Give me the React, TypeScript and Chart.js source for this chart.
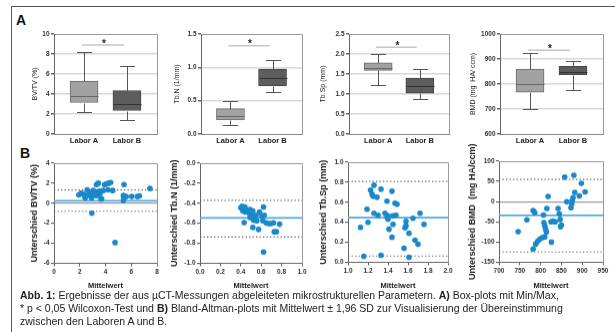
import React, { useEffect, useRef } from 'react';
import { Chart, registerables } from 'chart.js';
Chart.register(...registerables);

// ---------- DATA ----------
const boxCategories = ['Labor A', 'Labor B'];
// five-number summaries: [min, q1, median, q3, max]
const bvtvLaborA = [2.2, 3.15, 3.8, 5.3, 8.25];
const bvtvLaborB = [1.4, 2.35, 3.0, 4.35, 6.8];
const tbnLaborA = [0.13, 0.21, 0.27, 0.38, 0.49];
const tbnLaborB = [0.625, 0.72, 0.835, 0.975, 1.105];
const tbspLaborA = [1.22, 1.59, 1.64, 1.78, 1.99];
const tbspLaborB = [0.88, 1.02, 1.2, 1.4, 1.625];
const bmdLaborA = [702, 767, 802, 860, 922];
const bmdLaborB = [776, 837, 849, 871, 894];
const significanceLevels = [8.9, 1.325, 2.17, 935];

// Bland-Altman: means (x) and differences (y)
const bvtvMeans = [1.93, 2.1, 2.27, 2.42, 2.58, 2.73, 2.79, 2.92, 3.1, 3.2, 3.3, 3.44, 3.52, 3.57, 3.7, 3.83, 3.93, 4.09, 4.24, 4.4, 4.2, 4.56, 3.65, 2.94, 4.74, 5.44, 5.39, 5.44, 5.39, 5.6, 6.04, 6.48, 6.64, 7.45, 2.4, 3.3, 3.05];
const bvtvDiffs = [0.83, 1.0, 0.93, 0.53, 1.33, 1.1, 0.77, 0.53, 0.87, 1.1, 1.87, 2.0, 1.2, 0.93, 0.43, 1.27, 1.87, 1.93, 2.0, 2.07, 1.33, 1.27, 0.43, -1.0, -3.93, 1.87, 0.77, 0.53, 0.27, 0.67, 0.67, 0.67, 0.73, 1.47, 0.77, 0.77, 1.27];
const bvtvLimits = [0.25, 1.33, -0.8]; // mean, +1.96SD, -1.96SD

const tbnMeans = [0.4, 0.413, 0.426, 0.44, 0.42, 0.443, 0.433, 0.46, 0.48, 0.49, 0.51, 0.518, 0.53, 0.54, 0.55, 0.557, 0.518, 0.574, 0.584, 0.607, 0.616, 0.623, 0.63, 0.65, 0.672, 0.695, 0.72, 0.728, 0.748, 0.78, 0.623, 0.49, 0.525];
const tbnDiffs = [-0.444, -0.43, -0.454, -0.437, -0.477, -0.487, -0.593, -0.47, -0.497, -0.464, -0.51, -0.477, -0.536, -0.563, -0.52, -0.576, -0.642, -0.662, -0.487, -0.53, -0.576, -0.437, -0.52, -0.596, -0.603, -0.603, -0.596, -0.685, -0.685, -0.609, -0.887, -0.543, -0.57];
const tbnLimits = [-0.546, -0.37, -0.738];

const tbspMeans = [1.125, 1.158, 1.19, 1.2, 1.225, 1.24, 1.25, 1.26, 1.26, 1.29, 1.3, 1.33, 1.33, 1.37, 1.39, 1.39, 1.4, 1.4, 1.41, 1.44, 1.44, 1.45, 1.45, 1.47, 1.49, 1.48, 1.56, 1.57, 1.58, 1.58, 1.61, 1.61, 1.65, 1.67, 1.7, 1.72, 1.76];
const tbspDiffs = [0.349, 0.06, 0.53, 0.4, 0.72, 0.68, 0.66, 0.77, 0.49, 0.65, 0.47, 0.73, 0.07, 0.49, 0.61, 0.45, 0.43, 0.465, 0.33, 0.25, 0.71, 0.38, 0.465, 0.59, 0.58, 0.47, 0.14, 0.345, 0.41, 0.365, 0.29, 0.05, 0.44, 0.22, 0.18, 0.49, 0.38];
const tbspLimits = [0.445, 0.807, 0.063];

const bmdMeans = [746, 767, 782, 786, 807, 815, 818, 782, 788, 793, 798, 804, 810, 826, 808, 810, 812, 814, 825, 830, 835, 842, 845, 847, 848, 850, 858, 863, 873, 875, 876, 878, 880, 882, 893, 898, 907];
const bmdDiffs = [-74, -45, -22, -27, -33, -17, 13, -117, -105, -98, -93, -89, -87, -100, -52, -60, -68, -75, -50, -48, -50, -17, -30, -44, -62, -58, 61, 0, -15, -5, 3, 10, 65, 23, 14, 45, 24];
const bmdLimits = [-34, 55, -124.5];

// axis ranges [min, max, step]
const bvtvBoxAxis = [0, 10, 2];
const tbnBoxAxis = [0, 1.5, 0.5];
const tbspBoxAxis = [0, 2.5, 0.5];
const bmdBoxAxis = [600, 1000, 100];
const bvtvX = [0, 8, 2];
const bvtvY = [-6, 4, 2];
const tbnX = [0, 1, 0.2];
const tbnY = [-1, 0, 0.2];
const tbspX = [1, 2, 0.2];
const tbspY = [0, 1, 0.2];
const bmdX = [700, 950, 50];
const bmdY = [-150, 100, 50];

// ---------- STYLE ----------
const FONT = '"Liberation Sans", Arial, sans-serif';
const TICK_COLOR = '#333';
const BOX_FILL = ['#a2a2a2', '#5d5d5d'];
const BOX_BORDER = ['#6a6a6a', '#454545'];
const MEDIAN_COLOR = ['#666', '#333'];
const DOT = '#1b88cc';
const MEAN_LINE = '#55aadd';

type Rect = { l: number; t: number; r: number; b: number };

function layoutFor(plot: Rect, titleX: number, titleLH: number, xBottom: number, topRoom: number) {
  const yLeft = titleX - titleLH / 2;
  const cx = Math.floor(yLeft - 2);
  const cy = plot.t - topRoom;
  const cr = Math.min(615, plot.r + 10);
  const cb = xBottom + 3;
  return {
    canvas: { x: cx, y: cy, w: cr - cx, h: cb - cy },
    padding: { left: yLeft - cx, top: plot.t - cy, right: cr - plot.r, bottom: cb - xBottom },
    yWidth: plot.l - yLeft,
    xHeight: xBottom - plot.b,
  };
}

const px = (v: number) => Math.round(v) + 0.5;

const framePlugin = {
  id: 'frameLines',
  afterDatasetsDraw(chart: any) {
    const { ctx, chartArea: a } = chart;
    ctx.save();
    ctx.strokeStyle = '#999';
    ctx.lineWidth = 1;
    ctx.beginPath();
    ctx.moveTo(px(a.left), px(a.top));
    ctx.lineTo(px(a.right), px(a.top));
    ctx.lineTo(px(a.right), px(a.bottom));
    ctx.stroke();
    ctx.restore();
  },
};

function fmt(decimals: number) {
  return (v: any) => Number(v).toFixed(decimals);
}

function boxConfig(summaries: number[][], axis: number[], decimals: number, title: string, sig: number, lay: any) {
  const whiskerPlugin = {
    id: 'whiskers',
    afterDatasetsDraw(chart: any) {
      const xs = chart.scales.x, ys = chart.scales.y, ctx = chart.ctx;
      ctx.save();
      summaries.forEach((s, i) => {
        const cx = px(xs.getPixelForValue(i));
        const [mn, q1, md, q3, mx] = s.map((v) => px(ys.getPixelForValue(v)));
        ctx.strokeStyle = '#555';
        ctx.lineWidth = 1;
        ctx.beginPath();
        ctx.moveTo(cx, mx); ctx.lineTo(cx, q3);
        ctx.moveTo(cx, q1); ctx.lineTo(cx, mn);
        ctx.moveTo(cx - 7.5, mx); ctx.lineTo(cx + 7.5, mx);
        ctx.moveTo(cx - 7.5, mn); ctx.lineTo(cx + 7.5, mn);
        ctx.stroke();
        ctx.strokeStyle = MEDIAN_COLOR[i];
        ctx.beginPath();
        ctx.moveTo(cx - 14, md); ctx.lineTo(cx + 14, md);
        ctx.stroke();
      });
      const y = ys.getPixelForValue(sig);
      const x0 = xs.getPixelForValue(0), x1 = xs.getPixelForValue(1);
      ctx.strokeStyle = '#c6c6c6';
      ctx.lineWidth = 1.5;
      ctx.beginPath();
      ctx.moveTo(x0 - 2, y); ctx.lineTo(x1 - 3, y);
      ctx.stroke();
      ctx.fillStyle = '#222';
      ctx.font = `bold 10px ${FONT}`;
      ctx.textAlign = 'center';
      ctx.textBaseline = 'alphabetic';
      ctx.fillText('*', (x0 + x1) / 2 - 1.5, y + 1.5);
      ctx.restore();
    },
  };
  return {
    type: 'bar',
    data: {
      datasets: [
        {
          data: summaries.map((s, i) => ({ x: i, y: [s[1], s[3]] })),
          backgroundColor: BOX_FILL,
          borderColor: BOX_BORDER,
          borderWidth: 1,
          borderSkipped: false,
          barThickness: 28,
        },
      ],
    },
    options: {
      responsive: false,
      animation: false,
      events: [],
      layout: { padding: lay.padding },
      plugins: { legend: { display: false }, tooltip: { enabled: false } },
      scales: {
        x: {
          type: 'linear',
          min: -0.7,
          max: 1.7,
          offset: false,
          afterBuildTicks: (s: any) => { s.ticks = boxCategories.map((_, i) => ({ value: i })); },
          afterFit: (s: any) => { s.height = lay.xHeight; s.paddingLeft = 0; s.paddingRight = 0; },
          ticks: {
            callback: (v: any) => boxCategories[Math.round(v)],
            font: { family: FONT, size: 7.5, weight: 'bold' },
            color: '#222',
            padding: 2.5,
            maxRotation: 0,
            autoSkip: false,
          },
          grid: { display: false, drawTicks: false },
          border: { display: true, color: '#888', width: 1 },
        },
        y: {
          min: axis[0],
          max: axis[1],
          afterFit: (s: any) => { s.width = lay.yWidth; s.paddingTop = 0; s.paddingBottom = 0; },
          ticks: {
            stepSize: axis[2],
            callback: fmt(decimals),
            font: { family: FONT, size: 6.5, weight: 'bold' },
            color: TICK_COLOR,
            padding: 1.5,
          },
          grid: {
            color: (c: any) => (c.index === 0 || c.tick.value === axis[1] ? 'rgba(0,0,0,0)' : '#d8d8d8'),
            lineWidth: 1.5,
            tickColor: '#666',
            tickLength: 3,
          },
          border: { display: true, color: '#666', width: 1 },
          title: {
            display: true,
            text: title,
            font: { family: FONT, size: 7 },
            color: '#222',
            padding: 0,
          },
        },
      },
    },
    plugins: [whiskerPlugin, framePlugin],
  };
}

function scatterConfig(means: number[], diffs: number[], limits: number[], xr: number[], yr: number[], xDec: number, yDec: number, title: string, lay: any) {
  const hline = (v: number, color: string, width: number, dash: number[]) => ({
    type: 'line',
    data: [{ x: xr[0], y: v }, { x: xr[1], y: v }],
    borderColor: color,
    borderWidth: width,
    borderDash: dash,
    pointRadius: 0,
    order: 2,
  });
  return {
    type: 'scatter',
    data: {
      datasets: [
        {
          data: means.map((m, i) => ({ x: m, y: diffs[i] })),
          backgroundColor: DOT,
          borderWidth: 0,
          pointRadius: 2.8,
          order: 0,
        },
        hline(limits[0], MEAN_LINE, 1.8, []),
        hline(limits[1], '#666', 1.2, [1.3, 2.2]),
        hline(limits[2], '#666', 1.2, [1.3, 2.2]),
      ],
    },
    options: {
      responsive: false,
      animation: false,
      events: [],
      layout: { padding: lay.padding },
      plugins: { legend: { display: false }, tooltip: { enabled: false } },
      scales: {
        x: {
          type: 'linear',
          min: xr[0],
          max: xr[1],
          afterFit: (s: any) => { s.height = lay.xHeight; s.paddingLeft = 0; s.paddingRight = 0; },
          ticks: {
            stepSize: xr[2],
            callback: fmt(xDec),
            font: { family: FONT, size: 6.5, weight: 'bold' },
            color: TICK_COLOR,
            padding: 2,
            maxRotation: 0,
            autoSkip: false,
          },
          grid: { color: 'rgba(0,0,0,0)', tickColor: '#666', tickLength: 3 },
          border: { display: true, color: '#666', width: 1 },
          title: {
            display: true,
            text: 'Mittelwert',
            font: { family: FONT, size: 7.5, weight: 'bold' },
            color: '#222',
            padding: 0,
          },
        },
        y: {
          min: yr[0],
          max: yr[1],
          afterFit: (s: any) => { s.width = lay.yWidth; s.paddingTop = 0; s.paddingBottom = 0; },
          ticks: {
            stepSize: yr[2],
            callback: fmt(yDec),
            font: { family: FONT, size: 6.5, weight: 'bold' },
            color: TICK_COLOR,
            padding: 1.5,
          },
          grid: {
            color: (c: any) => (Math.abs(c.tick.value) < 1e-9 && c.tick.value !== yr[0] && c.tick.value !== yr[1] ? '#999' : 'rgba(0,0,0,0)'),
            lineWidth: 1.2,
            tickColor: '#666',
            tickLength: 3,
          },
          border: { display: true, color: '#666', width: 1 },
          title: {
            display: true,
            text: title,
            font: { family: FONT, size: 9, weight: 'bold' },
            color: '#222',
            padding: 0,
          },
        },
      },
    },
    plugins: [framePlugin],
  };
}

function ChartCanvas({ lay, make }: { lay: any; make: () => any }) {
  const ref = useRef<HTMLCanvasElement>(null);
  useEffect(() => {
    const chart = new Chart(ref.current as HTMLCanvasElement, make());
    return () => chart.destroy();
  }, []);
  const { x, y, w, h } = lay.canvas;
  return (
    <canvas
      ref={ref}
      width={w}
      height={h}
      style={{ position: 'absolute', left: x, top: y, width: w, height: h }}
    />
  );
}

const BOX_LH = 7 * 1.2;
const SC_LH = 9 * 1.2;
const boxLays = [
  layoutFor({ l: 54, t: 34, r: 157, b: 134 }, 35, BOX_LH, 148, 12),
  layoutFor({ l: 201, t: 34, r: 302, b: 134 }, 177, BOX_LH, 148, 12),
  layoutFor({ l: 349, t: 34, r: 449, b: 134 }, 323, BOX_LH, 148, 12),
  layoutFor({ l: 500, t: 34, r: 603, b: 134 }, 473, BOX_LH, 148, 12),
];
const scLays = [
  layoutFor({ l: 54, t: 163, r: 157, b: 263 }, 35, SC_LH, 289.5, 20),
  layoutFor({ l: 200, t: 163, r: 302, b: 263 }, 175, SC_LH, 289.5, 20),
  layoutFor({ l: 348, t: 162, r: 448, b: 262 }, 324, SC_LH, 289.5, 20),
  layoutFor({ l: 499, t: 161, r: 603, b: 262 }, 473, SC_LH, 289.5, 20),
];

export default function App() {
  useEffect(() => {
    document.body.style.margin = '0';
  }, []);
  return (
    <div style={{ position: 'fixed', left: 0, top: 0, width: 615, height: 332, background: '#fff', overflow: 'hidden', fontFamily: FONT }}>
      <div style={{ position: 'absolute', left: 11, top: 6, width: 620, height: 340, borderLeft: '1px solid #555', borderTop: '1px solid #555' }} />
      <div style={{ position: 'absolute', left: 16, top: 13, fontSize: 14, fontWeight: 'bold', lineHeight: '14px', color: '#111' }}>A</div>
      <div style={{ position: 'absolute', left: 20, top: 146, fontSize: 14, fontWeight: 'bold', lineHeight: '14px', color: '#111' }}>B</div>

      <ChartCanvas lay={scLays[0]} make={() => scatterConfig(bvtvMeans, bvtvDiffs, bvtvLimits, bvtvX, bvtvY, 0, 0, 'Unterschied BV/TV (%)', scLays[0])} />
      <ChartCanvas lay={scLays[1]} make={() => scatterConfig(tbnMeans, tbnDiffs, tbnLimits, tbnX, tbnY, 1, 1, 'Unterschied Tb.N (1/mm)', scLays[1])} />
      <ChartCanvas lay={scLays[2]} make={() => scatterConfig(tbspMeans, tbspDiffs, tbspLimits, tbspX, tbspY, 1, 1, 'Unterschied Tb.Sp (mm)', scLays[2])} />
      <ChartCanvas lay={scLays[3]} make={() => scatterConfig(bmdMeans, bmdDiffs, bmdLimits, bmdX, bmdY, 0, 0, 'Unterschied BMD  (mg HA/ccm)', scLays[3])} />

      <ChartCanvas lay={boxLays[0]} make={() => boxConfig([bvtvLaborA, bvtvLaborB], bvtvBoxAxis, 0, 'BV/TV (%)', significanceLevels[0], boxLays[0])} />
      <ChartCanvas lay={boxLays[1]} make={() => boxConfig([tbnLaborA, tbnLaborB], tbnBoxAxis, 1, 'Tb.N (1/mm)', significanceLevels[1], boxLays[1])} />
      <ChartCanvas lay={boxLays[2]} make={() => boxConfig([tbspLaborA, tbspLaborB], tbspBoxAxis, 1, 'Tb.Sp (mm)', significanceLevels[2], boxLays[2])} />
      <ChartCanvas lay={boxLays[3]} make={() => boxConfig([bmdLaborA, bmdLaborB], bmdBoxAxis, 0, 'BMD (mg  HA/ ccm)', significanceLevels[3], boxLays[3])} />

      <div style={{ position: 'absolute', left: 20, top: 288.5, fontSize: 10.5, lineHeight: '13px', color: '#222', whiteSpace: 'nowrap' }}>
        <div><b>Abb. 1:</b> Ergebnisse der aus µCT-Messungen abgeleiteten mikrostrukturellen Parametern. <b>A)</b> Box-plots mit Min/Max,</div>
        <div>* p &lt; 0,05 Wilcoxon-Test und <b>B)</b> Bland-Altman-plots mit Mittelwert ± 1,96 SD zur Visualisierung der Übereinstimmung</div>
        <div>zwischen den Laboren A und B.</div>
      </div>
    </div>
  );
}
